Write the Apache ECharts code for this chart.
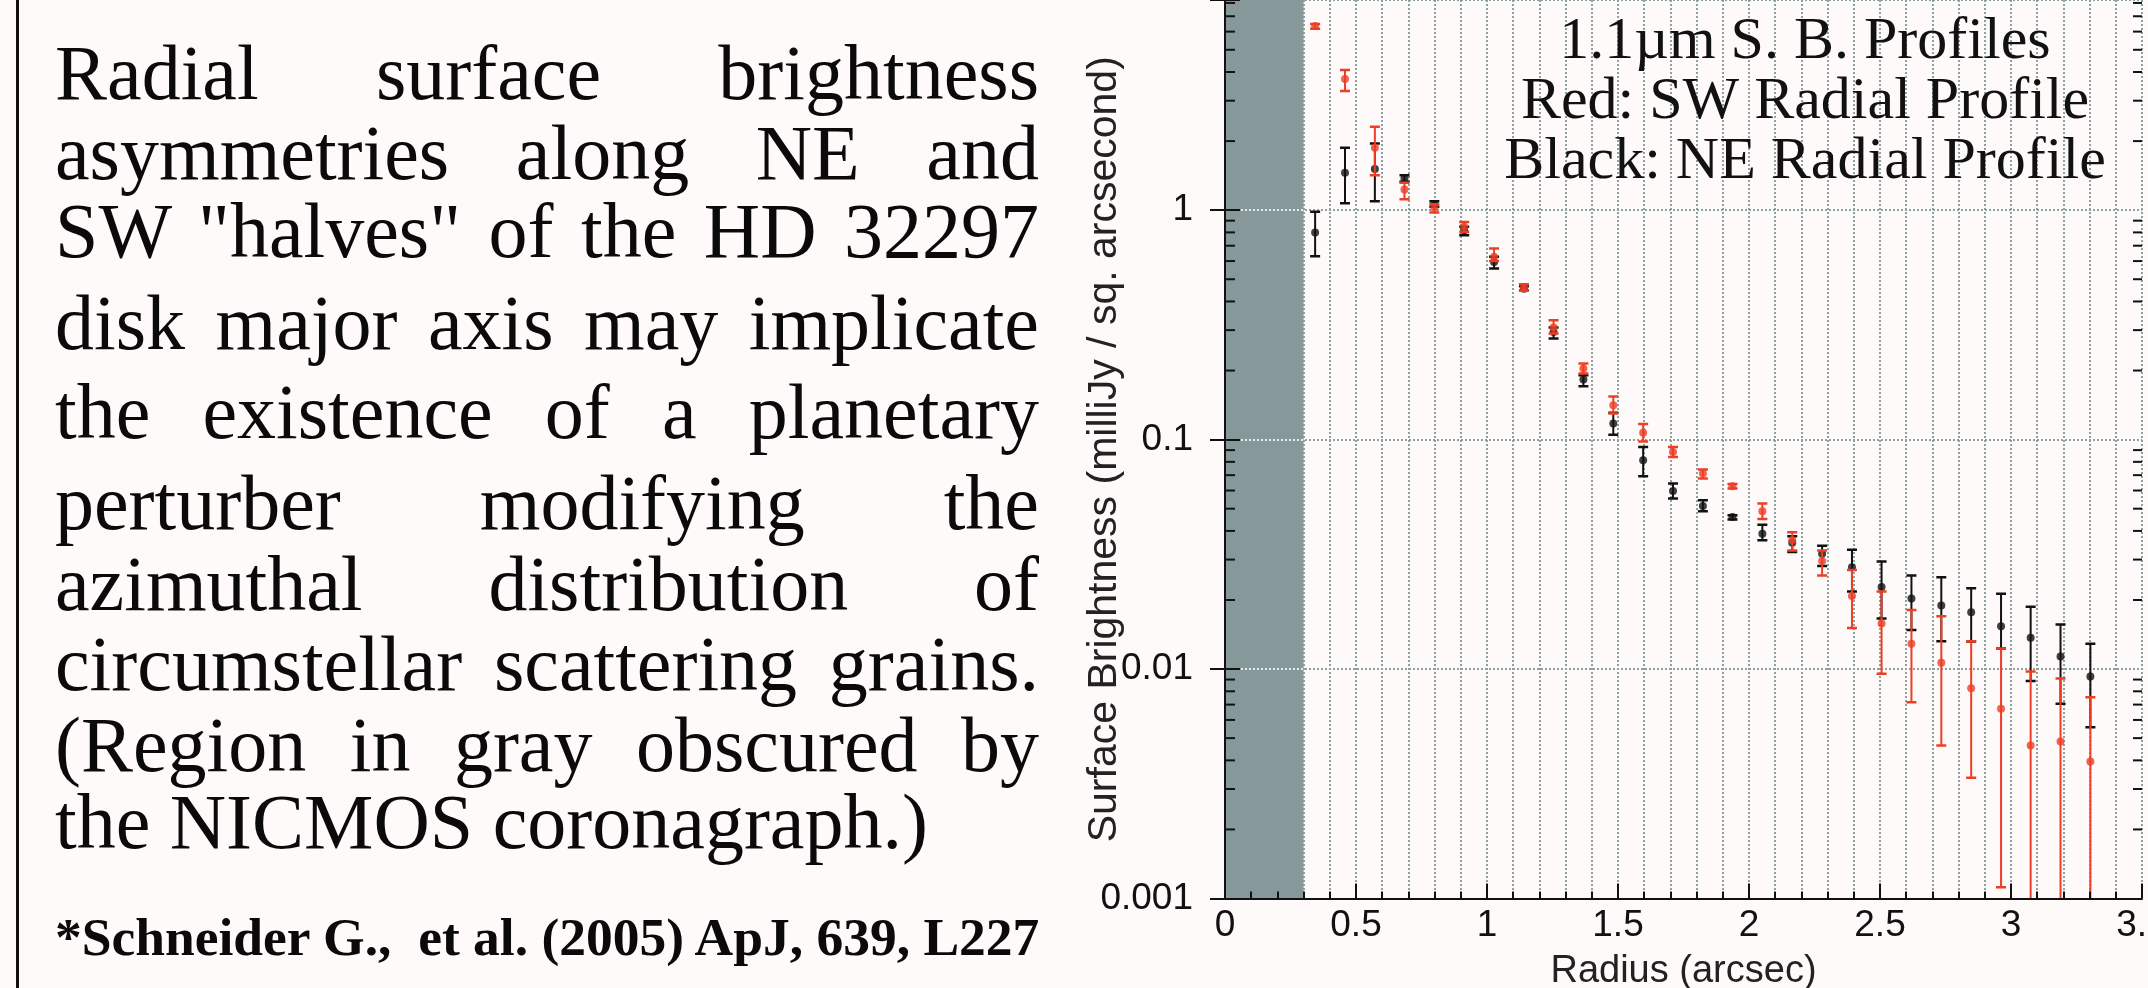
<!DOCTYPE html>
<html>
<head>
<meta charset="utf-8">
<script src="https://cdn.jsdelivr.net/npm/echarts@6/dist/echarts.min.js"></script>
<style>
  html, body { margin: 0; padding: 0; background: #fefaf9; }
  #chart { position: absolute; left: 0; top: 0; width: 2148px; height: 988px; }
  #notes { position: absolute; left: 0; top: 0; width: 1060px; height: 988px; pointer-events: none; }
  .rule { position: absolute; left: 16px; top: 0; width: 3px; height: 988px; background: #111; }
  .line { position: absolute; left: 55px; width: 984px; font-family: "Liberation Serif", "Times New Roman", serif;
          font-size: 78px; line-height: 80px; color: #0a0a0a; text-align: justify; text-align-last: justify; }
  .line.last { text-align: left; text-align-last: left; }
  .cite { position: absolute; left: 55px; font-family: "Liberation Serif", "Times New Roman", serif;
          font-weight: bold; font-size: 53.5px; line-height: 54px; color: #0a0a0a; white-space: pre; }
</style>
</head>
<body>
<div id="chart"></div>
<div id="notes"><div class="rule"></div></div>
<script>
// radial bins (arcsec) shared by both profiles
const radius = [0.344, 0.458, 0.572, 0.685, 0.799, 0.913, 1.027, 1.141, 1.254, 1.368, 1.482, 1.596, 1.710,
  1.824, 1.937, 2.051, 2.165, 2.279, 2.393, 2.506, 2.620, 2.734, 2.848, 2.962, 3.075, 3.189, 3.303];

// SW half (red)
const swFlux = [6.35, 3.73, 1.87, 1.23, 1.024, 0.846, 0.626, 0.46, 0.308, 0.204, 0.141, 0.107, 0.0883,
  0.0711, 0.0626, 0.0487, 0.0364, 0.0296, 0.0208, 0.0158, 0.0129, 0.01065, 0.00825, 0.00671, 0.00464, 0.00483, 0.00395];
const swLow = [6.18, 3.31, 1.42, 1.117, 0.977, 0.804, 0.601, 0.445, 0.290, 0.194, 0.130, 0.098, 0.0839,
  0.0677, 0.0612, 0.0451, 0.0329, 0.0256, 0.0151, 0.00954, 0.00717, 0.00464, 0.00336, 0.00112, 0.0005, 0.0005, 0.0005];
const swHigh = [6.48, 4.08, 2.31, 1.316, 1.062, 0.889, 0.681, 0.476, 0.331, 0.2146, 0.154, 0.117, 0.0929,
  0.0740, 0.0640, 0.0526, 0.0395, 0.0329, 0.0270, 0.0218, 0.0181, 0.0170, 0.01323, 0.0123, 0.00976, 0.00910, 0.00754];

// NE half (black)
const neFlux = [0.799, 1.455, 1.51, 1.374, 1.062, 0.818, 0.595, 0.455, 0.2946, 0.1826, 0.1174, 0.0812, 0.0597,
  0.0513, 0.046, 0.0389, 0.0355, 0.0318, 0.0278, 0.0228, 0.0203, 0.01894, 0.0177, 0.01538, 0.01369, 0.01135, 0.00928];
const neLow = [0.630, 1.073, 1.094, 1.33, 1.034, 0.778, 0.557, 0.446, 0.2757, 0.1710, 0.105, 0.0692, 0.0554,
  0.0487, 0.0448, 0.0364, 0.0324, 0.0281, 0.0218, 0.0166, 0.0148, 0.01323, 0.0132, 0.0123, 0.00886, 0.00706, 0.00558];
const neHigh = [0.983, 1.87, 1.95, 1.42, 1.094, 0.846, 0.626, 0.466, 0.308, 0.1906, 0.131, 0.0929, 0.0644,
  0.0544, 0.0468, 0.0426, 0.0379, 0.0345, 0.0331, 0.0294, 0.0256, 0.0251, 0.0225, 0.0213, 0.0187, 0.01564, 0.0129];

// region hidden by the coronagraph (arcsec)
const obscuredRange = [0, 0.3];
const decadeLines = [0.01, 0.1, 1];
const logMinorTicks = [0.002, 0.003, 0.004, 0.005, 0.006, 0.007, 0.008, 0.009,
  0.02, 0.03, 0.04, 0.05, 0.06, 0.07, 0.08, 0.09,
  0.2, 0.3, 0.4, 0.5, 0.6, 0.7, 0.8, 0.9,
  2, 3, 4, 5, 6, 7, 8];

const annotationLines = ['1.1\u00b5m S. B. Profiles', 'Red: SW Radial Profile', 'Black: NE Radial Profile'];
const paragraphLines = [
  'Radial surface brightness',
  'asymmetries along NE and',
  'SW "halves" of the HD 32297',
  'disk major axis may implicate',
  'the existence of a planetary',
  'perturber modifying the',
  'azimuthal distribution of',
  'circumstellar scattering grains.',
  '(Region in gray obscured by',
  'the NICMOS coronagraph.)'
];
const paragraphBaselines = [100, 180, 258, 350, 439, 530, 611, 691, 772, 849];
const citation = '*Schneider G.,  et al. (2005) ApJ, 639, L227';

// left text panel
const notes = document.getElementById('notes');
paragraphLines.forEach((text, i) => {
  const div = document.createElement('div');
  div.className = i === paragraphLines.length - 1 ? 'line last' : 'line';
  div.style.top = (paragraphBaselines[i] - 67) + 'px';
  div.textContent = text;
  notes.appendChild(div);
});
const cite = document.createElement('div');
cite.className = 'cite';
cite.style.top = (955 - 45) + 'px';
cite.textContent = citation;
notes.appendChild(cite);

const RED = '#ec3f25';
const BLACK = '#111111';
const GRID = '#8ea1a1';
const sans = '"Liberation Sans", Arial, sans-serif';
const Y_MAX = 8.24; // top edge of the picture cuts the axis here

function errorBars(color) {
  return function (params, api) {
    const x = api.value(0);
    const lo = api.coord([x, api.value(1)]);
    const hi = api.coord([x, api.value(2)]);
    const half = 5;
    return {
      type: 'group',
      children: [
        { type: 'line', shape: { x1: hi[0], y1: hi[1], x2: lo[0], y2: lo[1] }, style: { stroke: color, lineWidth: 2 } },
        { type: 'line', shape: { x1: hi[0] - half, y1: hi[1], x2: hi[0] + half, y2: hi[1] }, style: { stroke: color, lineWidth: 2.5 } },
        { type: 'line', shape: { x1: lo[0] - half, y1: lo[1], x2: lo[0] + half, y2: lo[1] }, style: { stroke: color, lineWidth: 2.5 } }
      ]
    };
  };
}

function minorTicks(params, api) {
  const left = api.coord([0, api.value(1)]);
  const right = api.coord([3.5, api.value(1)]);
  const style = { stroke: BLACK, lineWidth: 2 };
  return {
    type: 'group',
    children: [
      { type: 'line', shape: { x1: left[0], y1: left[1], x2: left[0] + 10, y2: left[1] }, style },
      { type: 'line', shape: { x1: right[0] - 9, y1: right[1], x2: right[0], y2: right[1] }, style }
    ]
  };
}

// only label the decades
const logLabel = v => {
  const e = Math.log10(v);
  return Math.abs(e - Math.round(e)) < 1e-6 ? String(parseFloat(Number(v).toPrecision(3))) : '';
};

const option = {
  backgroundColor: '#fefaf9',
  animation: false,
  grid: { left: 1225, right: 6, top: 0, bottom: 89.5, containLabel: false, outerBoundsMode: 'none' },
  graphic: [{
    type: 'text', x: 1805, y: 12, z: 20,
    style: {
      text: annotationLines.join('\n'), fill: BLACK, align: 'center', verticalAlign: 'top',
      fontFamily: '"Liberation Serif", "Times New Roman", serif', fontSize: 60, lineHeight: 60
    }
  }],
  xAxis: [{
    type: 'value', min: 0, max: 3.5, interval: 0.5, z: 10,
    axisLine: { show: true, onZero: false, lineStyle: { color: BLACK, width: 2 } },
    axisTick: { show: true, inside: true, length: 15, lineStyle: { color: BLACK, width: 2 } },
    minorTick: { show: true, splitNumber: 5, length: 7, lineStyle: { color: BLACK, width: 2 } },
    axisLabel: { color: BLACK, fontSize: 37, fontFamily: sans, margin: 9, hideOverlap: false, formatter: v => String(v) },
    splitLine: { show: false },
    name: 'Radius (arcsec)', nameLocation: 'middle', nameGap: 54, nameMoveOverlap: false,
    nameTextStyle: { color: '#222', fontSize: 38, fontFamily: sans }
  }, {
    type: 'value', min: 0, max: 3.5, interval: 0.5, z: 0, position: 'bottom',
    axisLine: { show: false }, axisTick: { show: false }, axisLabel: { show: false },
    minorTick: { show: false, splitNumber: 5 },
    splitLine: { show: true, lineStyle: { color: GRID, width: 2, type: [2, 2] } },
    minorSplitLine: { show: true, lineStyle: { color: GRID, width: 2, type: [2, 2] } }
  }],
  yAxis: [{
    type: 'log', logBase: 10, min: 0.001, max: Y_MAX, position: 'left', z: 10,
    axisLine: { show: true, lineStyle: { color: BLACK, width: 2 } },
    axisTick: { show: true, inside: true, length: 15, lineStyle: { color: BLACK, width: 2 } },
    axisLabel: { color: BLACK, fontSize: 37, fontFamily: sans, margin: 32, padding: [0, 0, 12, 0], formatter: logLabel },
    splitLine: { show: false },
    name: 'Surface Brightness (milliJy / sq. arcsecond)', nameLocation: 'middle', nameGap: 100, nameRotate: 90,
    nameMoveOverlap: false,
    nameTextStyle: { color: '#222', fontSize: 41, fontFamily: sans }
  }, {
    type: 'log', logBase: 10, min: 0.001, max: Y_MAX, position: 'right', z: 10,
    axisLine: { show: true, lineStyle: { color: BLACK, width: 2 } },
    axisTick: { show: true, inside: true, length: 15, lineStyle: { color: BLACK, width: 2 } },
    axisLabel: { show: false },
    splitLine: { show: false }
  }, {
    type: 'log', logBase: 10, min: 0.001, max: Y_MAX, position: 'left', z: 0,
    axisLine: { show: false }, axisTick: { show: false }, axisLabel: { show: false },
    splitLine: { show: true, lineStyle: { color: GRID, width: 2, type: [2, 2] } }
  }],
  series: [{
    name: 'NE error',
    type: 'custom',
    z: 2,
    clip: true,
    renderItem: errorBars(BLACK),
    encode: { x: 0, y: [1, 2] },
    data: radius.map((r, i) => [r, neLow[i], neHigh[i]]),
    markArea: {
      silent: true,
      itemStyle: { color: '#87989a', opacity: 1 },
      data: [[{ xAxis: obscuredRange[0] }, { xAxis: obscuredRange[1] }]]
    },
    markLine: {
      silent: true, symbol: ['none', 'none'], label: { show: false },
      lineStyle: { color: '#e4eaea', width: 2, type: [2, 2] },
      data: decadeLines.map(v => [{ coord: [obscuredRange[0], v] }, { coord: [obscuredRange[1], v] }])
    }
  }, {
    name: 'Black: NE Radial Profile',
    type: 'scatter',
    z: 3,
    symbol: 'circle',
    symbolSize: 8,
    itemStyle: { color: BLACK },
    data: radius.map((r, i) => [r, neFlux[i]])
  }, {
    name: 'SW error',
    type: 'custom',
    z: 4,
    clip: true,
    renderItem: errorBars(RED),
    encode: { x: 0, y: [1, 2] },
    data: radius.map((r, i) => [r, swLow[i], swHigh[i]])
  }, {
    name: 'Red: SW Radial Profile',
    type: 'scatter',
    z: 5,
    symbol: 'circle',
    symbolSize: 8,
    itemStyle: { color: RED },
    data: radius.map((r, i) => [r, swFlux[i]])
  }, {
    name: 'minor ticks',
    type: 'custom',
    z: 11,
    silent: true,
    clip: false,
    renderItem: minorTicks,
    encode: { x: 0, y: 1 },
    data: logMinorTicks.map(v => [0, v])
  }]
};

const chart = echarts.init(document.getElementById('chart'));
chart.setOption(option);
</script>
</body>
</html>
